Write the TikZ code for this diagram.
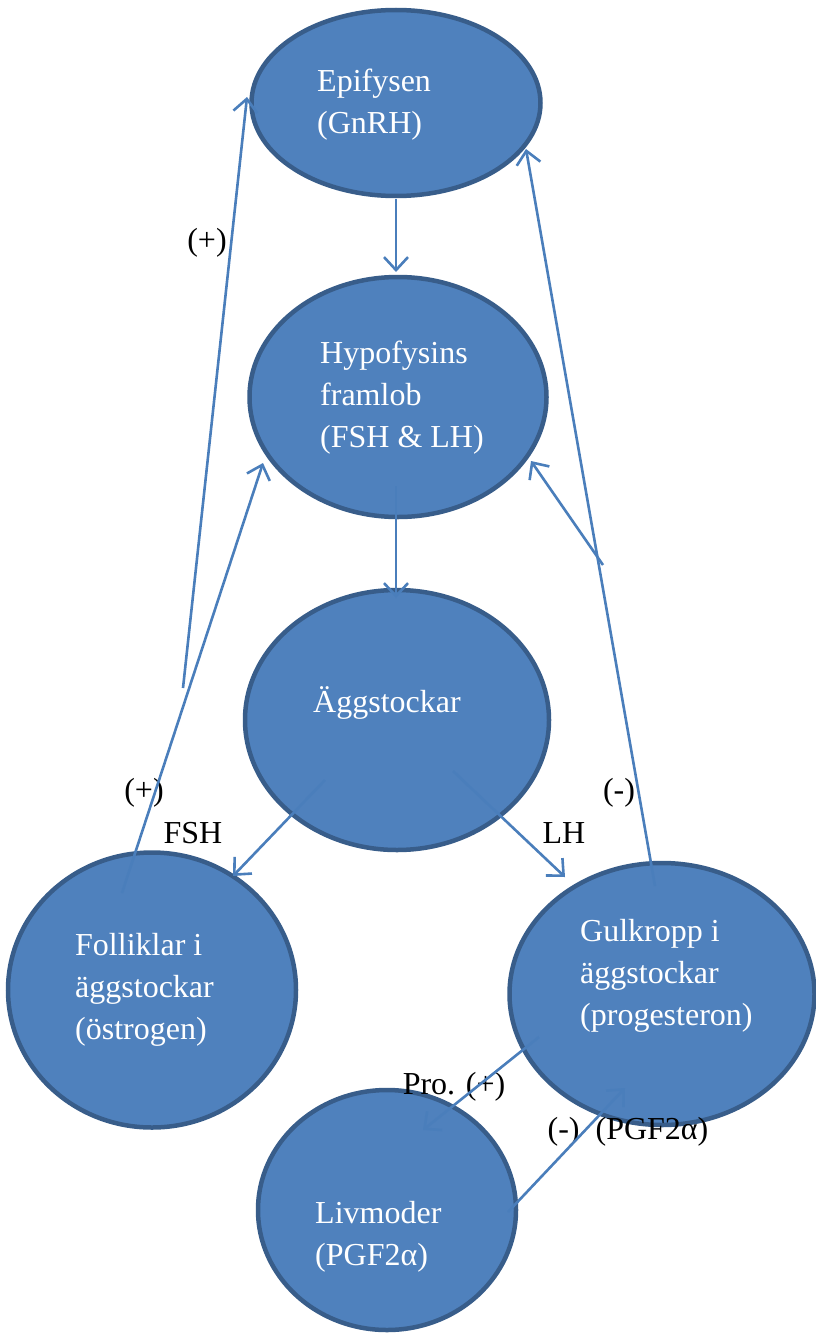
\documentclass[tikz,border=0pt]{standalone}
\usepackage{fontspec}
\setmainfont{Liberation Serif}
\usetikzlibrary{arrows.meta,shapes.geometric}
\definecolor{ellfill}{HTML}{4F81BD}
\definecolor{elldraw}{HTML}{385D8A}
\definecolor{arrcol}{HTML}{4A7EBB}
\tikzset{
  organ/.style={ellipse, draw=elldraw, fill=ellfill, line width=4.5pt, inner sep=0pt},
  organtxt/.style={anchor=base west, inner sep=0pt, align=left, text=white,
    font=\fontsize{32}{42}\selectfont},
  lbl/.style={inner sep=0pt, text=black, font=\fontsize{32}{42}\selectfont},
  conn/.style={draw=arrcol, line width=2.6pt, -{Straight Barb[length=13pt, width=24pt, line width=2.6pt]}},
}
\begin{document}
\begin{tikzpicture}[x=1pt, y=-1pt]
\useasboundingbox (0,0) rectangle (816,1338);
% ellipses
\node[organ, minimum width=289pt, minimum height=186pt] (epi) at (396,103) {};
\node[organ, minimum width=297pt, minimum height=240pt] (hyp) at (398,397) {};
\node[organ, minimum width=304pt, minimum height=260pt] (agg) at (397,720) {};
\node[organ, minimum width=288pt, minimum height=275pt] (fol) at (152,990) {};
\node[organ, minimum width=305pt, minimum height=262pt] (gul) at (662,994) {};
\node[organ, minimum width=258pt, minimum height=240pt] (liv) at (387,1210) {};
% texts (anchored at the baseline of the last line)
\node[organtxt] (tepi) at (317,133) {Epifysen\\(GnRH)};
\node[organtxt] (thyp) at (320,447) {Hypofysins\\framlob\\(FSH \& LH)};
\node[organtxt] (tagg) at (313,712) {Äggstockar};
\node[organtxt] (tfol) at (75,1039) {Folliklar i\\äggstockar\\(östrogen)};
\node[organtxt] (tgul) at (580,1025) {Gulkropp i\\äggstockar\\(progesteron)};
\node[organtxt] (tliv) at (315,1265) {Livmoder\\(PGF2α)};
% labels
\node[lbl] (l1) at (207,243) {(+)};
\node[lbl] (l2) at (144,793) {(+)};
\node[lbl] (l3) at (193,833) {FSH};
\node[lbl] (l4) at (564,833) {LH};
\node[lbl] (l5) at (619,793) {(-)};
\node[lbl] (l6) at (454,1087) {Pro. (+)};
\node[lbl] (l7) at (628,1132) {(-)\ \ (PGF2α)};
% connector end points
\coordinate (a1s) at (396,199);  \coordinate (a1e) at (396,272);
\coordinate (a2s) at (396,486);  \coordinate (a2e) at (396,598);
\coordinate (a3s) at (325,780);  \coordinate (a3e) at (233,876);
\coordinate (a4s) at (453,771);  \coordinate (a4e) at (565,877);
\coordinate (a5s) at (122,893);  \coordinate (a5e) at (263,463);
\coordinate (a6s) at (183,688);  \coordinate (a6e) at (247,97);
\coordinate (a7s) at (655,886);  \coordinate (a7e) at (526,149);
\coordinate (a8s) at (603,565);  \coordinate (a8e) at (531,461);
\coordinate (a9s) at (539,1037); \coordinate (a9e) at (423,1130);
\coordinate (a10s) at (508,1212); \coordinate (a10e) at (625,1088);
% connectors
\draw[conn] (a1s) -- (a1e);
\draw[conn] (a2s) -- (a2e);
\draw[conn] (a3s) -- (a3e);
\draw[conn] (a4s) -- (a4e);
\draw[conn] (a5s) -- (a5e);
\draw[conn] (a6s) -- (a6e);
\draw[conn] (a7s) -- (a7e);
\draw[conn] (a8s) -- (a8e);
\draw[conn] (a9s) -- (a9e);
\draw[conn] (a10s) -- (a10e);
\end{tikzpicture}
\end{document}
